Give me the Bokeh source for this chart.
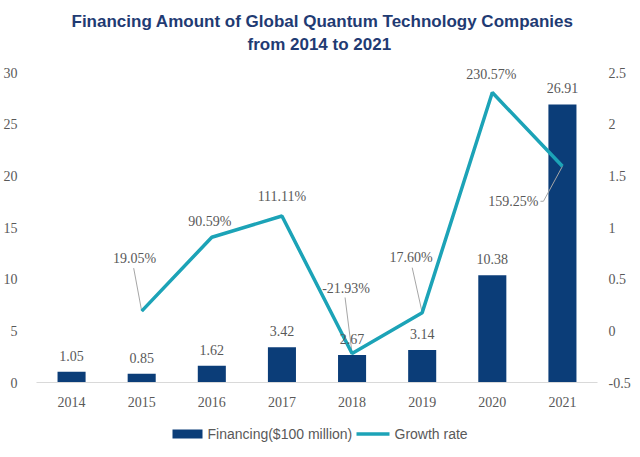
from bokeh.plotting import figure
from bokeh.layouts import column
from bokeh.models import (ColumnDataSource, Range1d, LinearAxis, FixedTicker,
                          LabelSet, Title)
from bokeh.core.properties import value
from bokeh.embed import file_html
from bokeh.resources import INLINE

# ---- data ----
years = [2014, 2015, 2016, 2017, 2018, 2019, 2020, 2021]
financing = [1.05, 0.85, 1.62, 3.42, 2.67, 3.14, 10.38, 26.91]
rate_years = [2015, 2016, 2017, 2018, 2019, 2020, 2021]
growth_rate = [0.1905, 0.9059, 1.1111, -0.2193, 0.1760, 2.3057, 1.5925]
growth_labels = ["19.05%", "90.59%", "111.11%", "-21.93%", "17.60%", "230.57%", "159.25%"]
left_ticks = [0, 5, 10, 15, 20, 25, 30]
right_ticks = [-0.5, 0, 0.5, 1, 1.5, 2, 2.5]
right_tick_labels = ["-0.5", "0", "0.5", "1", "1.5", "2", "2.5"]
title_lines = ["Financing Amount of Global Quantum Technology Companies", "from 2014 to 2021"]
legend_labels = ["Financing($100 million)", "Growth rate"]

# ---- styles ----
NAVY = "#0B3D78"
TEAL = "#1CA3B7"
GRAY_TXT = "#595959"
TITLE_C = "#1F3B73"
SERIF = "Liberation Serif"
SANS = "Liberation Sans"

AX_H = 310          # pixel height of the 0..30 axis span
EXTRA = 12          # free pixels above the axis top so top labels are not clipped
FW, FH = 561, AX_H + EXTRA
X0, X1 = 2013.5, 2021.5
Y0, YT = 0, 30
R0, RT = -0.5, 2.5
Y1 = YT + EXTRA * (YT - Y0) / AX_H
R1 = RT + EXTRA * (RT - R0) / AX_H
pxx = FW / (X1 - X0)
pxr = FH / (R1 - R0)

# label offsets in pixels (dx, dy up)
lab_off = [(-7, 53), (-2, 16), (0, 20), (-6, 65), (-11, 55), (-1, 18), (-49, -35)]
# leader lines: list of pixel offsets from the point (empty = no leader)
leaders = [[(-8, 43), (0, 0)], [], [], [(-7, 56), (0, 0)], [(-10, 45), (0, 0)], [],
           [(-22, -35), (-19, -35), (0, 0)]]

p = figure(frame_width=FW, frame_height=FH, output_backend="svg", toolbar_location=None,
           title=None,
           x_range=Range1d(X0, X1), y_range=Range1d(Y0, Y1),
           min_border_left=0, min_border_right=0, min_border_top=0, min_border_bottom=0,
           background_fill_color="white", border_fill_color="white")
p.outline_line_color = None
p.grid.visible = False
p.extra_y_ranges = {"rate": Range1d(R0, R1)}

# titles (first added sits closest to the plot)
p.add_layout(Title(text=" ", text_font_size="2px", standoff=3), "above")
p.add_layout(Title(text=title_lines[1], align="left", offset=211, text_font=SANS,
                   text_font_size="17px", text_font_style="bold", text_color=TITLE_C,
                   standoff=0), "above")
p.add_layout(Title(text=title_lines[0], align="left", offset=35, text_font=SANS,
                   text_font_size="17px", text_font_style="bold", text_color=TITLE_C,
                   standoff=3), "above")
p.add_layout(Title(text=" ", text_font_size="6px", standoff=0), "above")

# axes
xa = p.xaxis[0]
xa.ticker = FixedTicker(ticks=years)
xa.axis_line_color = "#D9D9D9"
xa.major_tick_line_color = None
xa.minor_tick_line_color = None
xa.major_label_text_font = SERIF
xa.major_label_text_font_size = "14px"
xa.major_label_text_color = GRAY_TXT
xa.major_label_standoff = 8

ya = p.yaxis[0]
ya.ticker = FixedTicker(ticks=left_ticks)
ya.axis_line_color = None
ya.major_tick_line_color = None
ya.minor_tick_line_color = None
ya.major_label_text_font = SERIF
ya.major_label_text_font_size = "14px"
ya.major_label_text_color = GRAY_TXT
ya.major_label_standoff = 13

ra = LinearAxis(y_range_name="rate", ticker=FixedTicker(ticks=right_ticks))
ra.major_label_overrides = {t: s for t, s in zip(right_ticks, right_tick_labels)}
ra.axis_line_color = None
ra.major_tick_line_color = None
ra.minor_tick_line_color = None
ra.major_label_text_font = SERIF
ra.major_label_text_font_size = "14px"
ra.major_label_text_color = GRAY_TXT
ra.major_label_standoff = 5
p.add_layout(ra, "right")

# bars
bsrc = ColumnDataSource(dict(x=years, top=financing, lab=[f"{v:.2f}" for v in financing]))
p.vbar(x="x", top="top", width=0.4, source=bsrc, fill_color=NAVY, line_color=None)
p.add_layout(LabelSet(x="x", y="top", text="lab", source=bsrc, y_offset=16,
                      text_align="center", text_baseline="middle", text_font=value(SERIF),
                      text_font_size="14px", text_color=GRAY_TXT))

# leader lines
lx, ly = [], []
for yr, r, pts in zip(rate_years, growth_rate, leaders):
    if pts:
        lx.append([yr + dx / pxx for dx, dy in pts])
        ly.append([r + dy / pxr for dx, dy in pts])
p.multi_line(xs=lx, ys=ly, y_range_name="rate", line_color="#A6A6A6", line_width=1)

# growth line
lsrc = ColumnDataSource(dict(x=rate_years, y=growth_rate, lab=growth_labels,
                             xo=[o[0] for o in lab_off], yo=[o[1] for o in lab_off]))
p.line(x="x", y="y", source=lsrc, y_range_name="rate", line_color=TEAL, line_width=3.5)

p.add_layout(LabelSet(x="x", y="y", text="lab", source=lsrc, y_range_name="rate",
                      x_offset="xo", y_offset="yo",
                      text_align="center", text_baseline="middle", text_font=value(SERIF),
                      text_font_size="14px", text_color=GRAY_TXT))

# legend strip: a small pixel-unit figure below the chart
LW, LH = 624, 44
lg = figure(frame_width=LW, frame_height=LH, output_backend="svg", toolbar_location=None,
            x_range=Range1d(0, LW), y_range=Range1d(0, LH), x_axis_type=None, y_axis_type=None,
            min_border=0, title=None, background_fill_color="white", border_fill_color="white")
lg.outline_line_color = None
lg.grid.visible = False
LEG_Y = 19.5
lg.rect(x=[151], y=[LEG_Y], width=30, height=9, fill_color=NAVY, line_color=None)
lg.line(x=[320, 353], y=[LEG_Y, LEG_Y], line_color=TEAL, line_width=3.5)
lg.text(x=[171, 358], y=[LEG_Y, LEG_Y], text=legend_labels, text_baseline="middle",
        text_align="left", text_font=value(SANS), text_font_size="14px", text_color=GRAY_TXT)

layout = column(p, lg, spacing=0)
open("out.html", "w").write(file_html(layout, INLINE))
